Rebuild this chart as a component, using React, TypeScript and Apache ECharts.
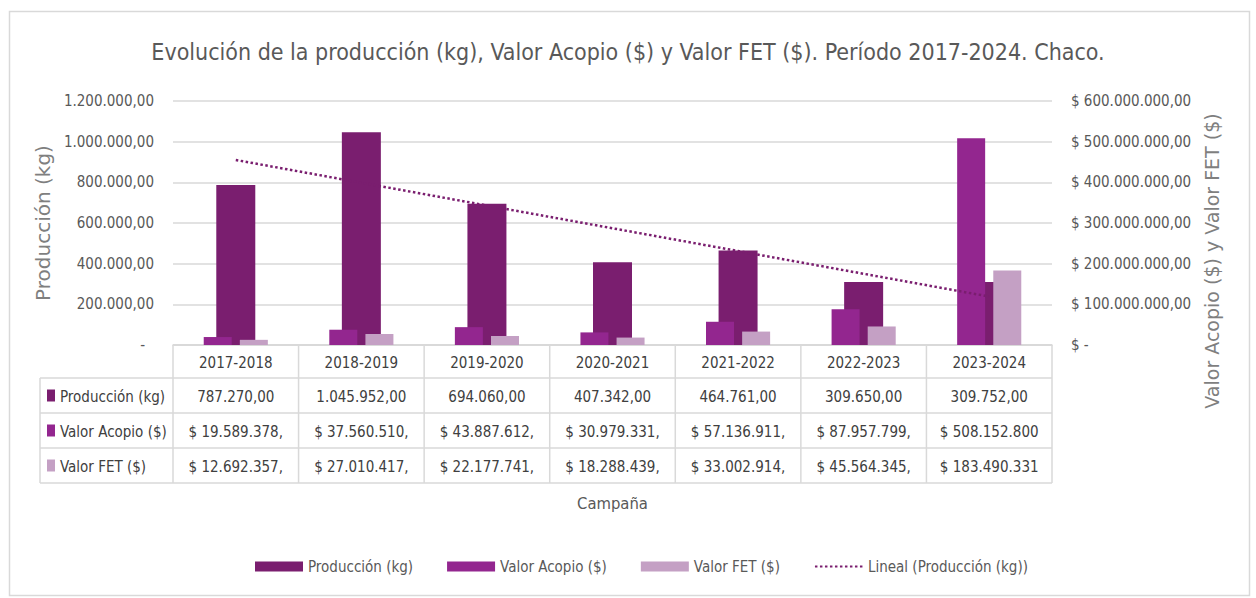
import React, { useEffect, useRef } from "react";
import * as echarts from "echarts";

// ---- Data ----
const categories = ["2017-2018", "2018-2019", "2019-2020", "2020-2021", "2021-2022", "2022-2023", "2023-2024"];
const produccion = [787270, 1045952, 694060, 407342, 464761, 309650, 309752];
const valorAcopio = [19589378, 37560510, 43887612, 30979331, 57136911, 87957799, 508152800];
const valorFET = [12692357, 27010417, 22177741, 18288439, 33002914, 45564345, 183490331];
const seriesNames = ["Producción (kg)", "Valor Acopio ($)", "Valor FET ($)", "Lineal (Producción (kg))"];
const leftMax = 1200000;
const leftInterval = 200000;
const rightMax = 600000000;
const rightInterval = 100000000;

// ---- Styles ----
const C_PROD = "#7a1e6f";
const C_ACOP = "#93268f";
const C_FET = "#c4a0c4";
const GRID_COLOR = "#d9d9d9";
const TEXT = "#595959";
const TEXT_DARK = "#404040";
const NARROW = "'Liberation Sans Narrow', 'Arial Narrow', 'DejaVu Sans Condensed', sans-serif";
const WIDE = "'DejaVu Sans', Verdana, sans-serif";
const FS = 15;

const W = 1256;
const H = 598;
const GL = 173;
const GR = 1052;
const GT = 101;
const GB = 345;
const TABLE_LEFT = 40;
const ROW_Y = [345, 378, 413, 448, 483];

function fmtNum(n: number): string {
  const [i, d] = n.toFixed(2).split(".");
  return i.replace(/\B(?=(\d{3})+(?!\d))/g, ".") + "," + d;
}

// Linear trendline (least squares) of production, as Excel's "Lineal"
function linearTrend(ys: number[]): number[] {
  const n = ys.length;
  const xs = ys.map((_, i) => i + 1);
  const mx = xs.reduce((a, b) => a + b, 0) / n;
  const my = ys.reduce((a, b) => a + b, 0) / n;
  let sxy = 0;
  let sxx = 0;
  for (let i = 0; i < n; i++) {
    sxy += (xs[i] - mx) * (ys[i] - my);
    sxx += (xs[i] - mx) * (xs[i] - mx);
  }
  const slope = sxy / sxx;
  const intercept = my - slope * mx;
  return xs.map((x) => Math.round(intercept + slope * x));
}

function buildTable(): any[] {
  const els: any[] = [];
  const catW = (GR - GL) / categories.length;
  const line = (x1: number, y1: number, x2: number, y2: number) => ({
    type: "line",
    shape: { x1, y1, x2, y2 },
    style: { stroke: GRID_COLOR, lineWidth: 1.5 },
    silent: true,
  });
  els.push(line(GL, ROW_Y[0], GR, ROW_Y[0]));
  for (let r = 1; r < ROW_Y.length; r++) els.push(line(TABLE_LEFT, ROW_Y[r], GR, ROW_Y[r]));
  els.push(line(TABLE_LEFT, ROW_Y[1], TABLE_LEFT, ROW_Y[4]));
  for (let c = 0; c <= categories.length; c++) {
    const x = GL + c * catW;
    els.push(line(x, ROW_Y[0], x, ROW_Y[4]));
  }
  const rows = [
    { name: seriesNames[0], color: C_PROD, cells: produccion.map((v) => fmtNum(v)) },
    { name: seriesNames[1], color: C_ACOP, cells: valorAcopio.map((v) => ("$ " + fmtNum(v)).slice(0, 13)) },
    { name: seriesNames[2], color: C_FET, cells: valorFET.map((v) => ("$ " + fmtNum(v)).slice(0, 13)) },
  ];
  rows.forEach((row, r) => {
    const cy = (ROW_Y[r + 1] + ROW_Y[r + 2]) / 2;
    els.push({
      type: "rect",
      shape: { x: 47, y: cy - 6, width: 8, height: 12 },
      style: { fill: row.color },
      silent: true,
    });
    els.push({
      type: "text",
      x: 60,
      y: cy + 1,
      style: { text: row.name, fill: TEXT_DARK, font: `${FS}px ${NARROW}`, align: "left", verticalAlign: "middle" },
      silent: true,
    });
    row.cells.forEach((t, c) => {
      els.push({
        type: "text",
        x: GL + (c + 0.5) * catW,
        y: cy + 1,
        style: { text: t, fill: TEXT_DARK, font: `${FS}px ${NARROW}`, align: "center", verticalAlign: "middle" },
        silent: true,
      });
    });
  });
  return els;
}

export default function App() {
  const ref = useRef<HTMLDivElement>(null);
  useEffect(() => {
    if (!ref.current) return;
    const chart = echarts.init(ref.current, undefined, { renderer: "svg" });
    const trend = linearTrend(produccion);
    const option: any = {
      animation: false,
      backgroundColor: "#ffffff",
      title: {
        text: "Evolución de la producción (kg), Valor Acopio ($) y Valor FET ($). Período 2017-2024. Chaco.",
        left: "center",
        top: 40,
        padding: 0,
        textStyle: { fontFamily: NARROW, fontSize: 23, fontWeight: "normal", color: TEXT },
      },
      legend: {
        data: [
          { name: seriesNames[0], icon: "rect" },
          { name: seriesNames[1], icon: "rect" },
          { name: seriesNames[2], icon: "rect" },
          { name: seriesNames[3], itemStyle: { opacity: 0 } },
        ],
        left: 250,
        top: 554,
        itemWidth: 48,
        itemHeight: 10,
        itemGap: 34,
        textStyle: { fontFamily: NARROW, fontSize: FS, color: TEXT },
      },
      grid: { left: GL, right: W - GR, top: GT, bottom: H - GB, containLabel: false },
      xAxis: [
        {
          type: "category",
          data: categories,
          axisLine: { show: true, lineStyle: { color: GRID_COLOR, width: 1.5 } },
          axisTick: { show: false },
          axisLabel: { margin: 10, fontFamily: NARROW, fontSize: FS, color: TEXT_DARK },
          name: "Campaña",
          nameLocation: "middle",
          nameGap: 150,
          nameTextStyle: { fontFamily: NARROW, fontSize: 16.5, color: TEXT },
        },
        {
          type: "category",
          data: categories,
          show: false,
        },
      ],
      yAxis: [
        {
          type: "value",
          min: 0,
          max: leftMax,
          interval: leftInterval,
          axisLine: { show: false },
          axisTick: { show: false },
          splitLine: { show: true, lineStyle: { color: GRID_COLOR, width: 1.5 } },
          axisLabel: {
            margin: 19,
            fontFamily: NARROW,
            fontSize: FS,
            color: TEXT,
            formatter: (v: number) => (v === 0 ? "{z|-}" : fmtNum(v)),
            rich: { z: { fontFamily: NARROW, fontSize: FS, color: TEXT, padding: [0, 9, 0, 0] } },
          },
          name: "Producción (kg)",
          nameLocation: "middle",
          nameRotate: 90,
          nameGap: 106,
          nameTextStyle: { fontFamily: WIDE, fontSize: 20, color: "#7f7f7f" },
        },
        {
          type: "value",
          min: 0,
          max: rightMax,
          interval: rightInterval,
          position: "right",
          axisLine: { show: false },
          axisTick: { show: false },
          splitLine: { show: false },
          axisLabel: {
            margin: 19,
            fontFamily: NARROW,
            fontSize: FS,
            color: TEXT,
            formatter: (v: number) => (v === 0 ? "$ -" : "$ " + fmtNum(v)),
          },
          name: "Valor Acopio ($) y Valor FET ($)",
          nameLocation: "middle",
          nameRotate: 90,
          nameGap: 133,
          nameTextStyle: { fontFamily: WIDE, fontSize: 19, color: "#7f7f7f", padding: [0, 76, 0, 0] },
        },
      ],
      series: [
        {
          name: seriesNames[0],
          type: "bar",
          xAxisIndex: 0,
          yAxisIndex: 0,
          data: produccion,
          barWidth: 39,
          itemStyle: { color: C_PROD },
          z: 2,
        },
        {
          name: seriesNames[1],
          type: "bar",
          xAxisIndex: 1,
          yAxisIndex: 1,
          data: valorAcopio,
          barWidth: 28,
          barGap: "29%",
          itemStyle: { color: C_ACOP },
          z: 3,
        },
        {
          name: seriesNames[2],
          type: "bar",
          xAxisIndex: 1,
          yAxisIndex: 1,
          data: valorFET,
          barWidth: 28,
          barGap: "29%",
          itemStyle: { color: C_FET },
          z: 3,
        },
        {
          name: seriesNames[3],
          type: "line",
          xAxisIndex: 0,
          yAxisIndex: 0,
          data: trend,
          symbol: "none",
          itemStyle: { color: C_PROD },
          lineStyle: { color: C_PROD, width: 2.5, type: [2.5, 2.5] },
          z: 5,
        },
      ],
      graphic: [
        {
          type: "rect",
          shape: { x: 9.5, y: 11.5, width: 1240, height: 584 },
          style: { fill: "none", stroke: GRID_COLOR, lineWidth: 1.5 },
          silent: true,
          z: -1,
        },
        ...buildTable(),
      ],
    };
    chart.setOption(option);
    return () => chart.dispose();
  }, []);
  return (
    <div
      ref={ref}
      style={{ position: "fixed", left: 0, top: 0, width: W, height: H, background: "#fff" }}
    />
  );
}
